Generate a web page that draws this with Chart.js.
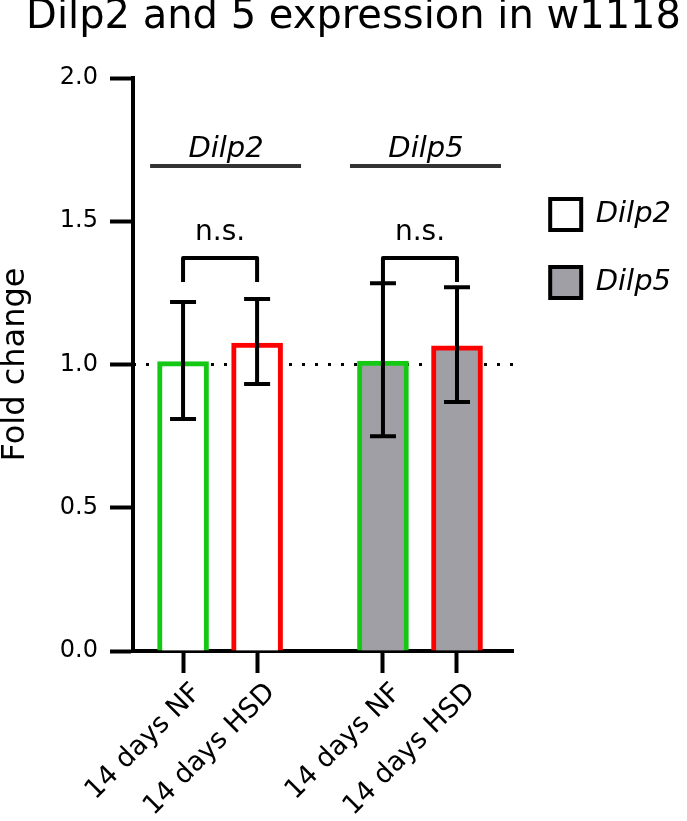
<!DOCTYPE html>
<html lang="en">
<head>
<meta charset="UTF-8">
<title>Dilp2 and 5 expression in w1118</title>
<script src="https://cdn.jsdelivr.net/npm/chart.js"></script>
<style>
  body { margin: 0; background: #fff; }
  .chart-box { width: 687px; height: 821px; }
</style>
</head>
<body>
<div class="chart-box"><canvas id="foldChart"></canvas></div>
<script>
const genes = ['Dilp2', 'Dilp5'];
const diets = ['14 days NF', '14 days HSD'];
const tickLabels = ['14 days NF', '14 days HSD', '14 days NF', '14 days HSD'];
const foldChange = [1.01, 1.075, 1.012, 1.065];
const errHigh = [1.218, 1.229, 1.284, 1.27];
const errLow = [0.81, 0.932, 0.75, 0.869];
const significance = ['n.s.', 'n.s.'];
const yTicks = [0, 0.5, 1.0, 1.5, 2.0];

// where the annotations sit, in fold-change units
const BRACKET_TOP = 1.372;
const BRACKET_LEG = 1.288;
const SIG_TEXT_Y = 1.434;
const HEADER_LINE_Y = 1.693;
const HEADER_TEXT_Y = 1.724;

const FONT = 'DejaVu Sans';
const GREEN = '#14c814';
const RED = '#ff0000';
const GREY = '#a09fa5';

// the two gene groups sit further apart than the diets inside a group
const GROUP_STEP = 2.7;
const xPos = tickLabels.map((_, i) => Math.floor(i / 2) * GROUP_STEP + (i % 2));
const X_MIN = -0.676, X_MAX = 4.459;

const annotations = {
  id: 'annotations',
  afterDatasetsDraw(chart) {
    const { ctx, scales: { x, y } } = chart;
    ctx.save();
    ctx.strokeStyle = '#000';
    ctx.lineWidth = 4;

    // error bars
    xPos.forEach((v, i) => {
      const px = x.getPixelForValue(v);
      const top = y.getPixelForValue(errHigh[i]);
      const bot = y.getPixelForValue(errLow[i]);
      ctx.beginPath();
      ctx.moveTo(px, top); ctx.lineTo(px, bot);
      ctx.moveTo(px - 13, top); ctx.lineTo(px + 13, top);
      ctx.moveTo(px - 13, bot); ctx.lineTo(px + 13, bot);
      ctx.stroke();
    });

    genes.forEach((g, k) => {
      const a = x.getPixelForValue(xPos[2 * k]);
      const b = x.getPixelForValue(xPos[2 * k + 1]);
      const mid = (a + b) / 2;

      // bracket + n.s.
      ctx.strokeStyle = '#000';
      ctx.lineWidth = 4;
      ctx.lineJoin = 'round';
      ctx.beginPath();
      ctx.moveTo(a, y.getPixelForValue(BRACKET_LEG));
      ctx.lineTo(a, y.getPixelForValue(BRACKET_TOP));
      ctx.lineTo(b, y.getPixelForValue(BRACKET_TOP));
      ctx.lineTo(b, y.getPixelForValue(BRACKET_LEG));
      ctx.stroke();
      ctx.fillStyle = '#000';
      ctx.textAlign = 'center';
      ctx.textBaseline = 'alphabetic';
      ctx.font = `28px "${FONT}"`;
      ctx.fillText(significance[k], mid, y.getPixelForValue(SIG_TEXT_Y));

      // gene header
      const hy = y.getPixelForValue(HEADER_LINE_Y);
      ctx.strokeStyle = '#333';
      ctx.beginPath();
      ctx.moveTo(mid - 70, hy);
      ctx.lineTo(mid + 81, hy);
      ctx.stroke();
      ctx.font = `italic 29px "${FONT}"`;
      ctx.fillText(g, mid + 6, y.getPixelForValue(HEADER_TEXT_Y));
    });
    ctx.restore();
  }
};

const axisGrid = {
  display: true,
  drawOnChartArea: false,
  drawTicks: true,
  tickWidth: 4,
  tickColor: '#000',
  offset: false
};

new Chart(document.getElementById('foldChart'), {
  type: 'bar',
  data: {
    datasets: [
      {
        type: 'bar',
        data: xPos.map((v, i) => ({ x: v, y: foldChange[i] })),
        backgroundColor: xPos.map((_, i) => Math.floor(i / 2) ? GREY : '#fff'),
        borderColor: xPos.map((_, i) => (i % 2) ? RED : GREEN),
        borderWidth: 5,
        borderSkipped: 'start',
        barThickness: 51,
        order: 1
      },
      {
        type: 'line',
        data: [{ x: X_MIN, y: 1 }, { x: X_MAX, y: 1 }],
        borderColor: '#000',
        borderWidth: 3,
        borderDash: [3, 10],
        pointRadius: 0,
        order: 2
      }
    ]
  },
  options: {
    responsive: true,
    maintainAspectRatio: false,
    animation: false,
    events: [],
    layout: { padding: { right: 6 } },
    scales: {
      x: {
        type: 'linear',
        min: X_MIN,
        max: X_MAX,
        offset: false,
        afterBuildTicks: s => { s.ticks = xPos.map(v => ({ value: v })); },
        afterFit: s => { s.height = 170; },
        grid: { ...axisGrid, tickLength: 22 },
        border: { display: true, color: '#000', width: 4 },
        ticks: {
          autoSkip: false,
          minRotation: 45,
          maxRotation: 45,
          padding: 4,
          labelOffset: 14,
          color: '#000',
          font: { family: FONT, size: 27 },
          callback: (v, i) => tickLabels[i]
        }
      },
      y: {
        min: 0,
        max: 2,
        afterBuildTicks: s => { s.ticks = yTicks.map(v => ({ value: v })); },
        afterFit: s => { s.width = 133; },
        grid: { ...axisGrid, tickLength: 23 },
        border: { display: true, color: '#000', width: 4 },
        ticks: {
          padding: 12,
          color: '#000',
          font: { family: FONT, size: 24 },
          callback: v => Number(v).toFixed(1)
        },
        title: {
          display: true,
          text: 'Fold change',
          color: '#000',
          padding: 0,
          font: { family: FONT, size: 32, lineHeight: 1 }
        }
      }
    },
    plugins: {
      tooltip: { enabled: false },
      title: {
        display: true,
        text: 'Dilp2 and 5 expression in w1118',
        align: 'end',
        color: '#000',
        padding: { top: 0, bottom: 42 },
        font: { family: FONT, size: 40, weight: 'normal', lineHeight: 0.9 }
      },
      legend: {
        position: 'right',
        align: 'start',
        title: { display: true, text: ' ', font: { size: 10, lineHeight: 1.2 }, padding: { top: 150, bottom: 0 } },
        labels: {
          boxWidth: 31,
          boxHeight: 31,
          padding: 37,
          color: '#000',
          font: { family: FONT, size: 29, style: 'italic' },
          generateLabels: () => genes.map((g, k) => ({
            text: g,
            fillStyle: k ? GREY : '#fff',
            strokeStyle: '#000',
            fontColor: '#000',
            lineWidth: 4,
            hidden: false,
            datasetIndex: 0
          }))
        }
      }
    }
  },
  plugins: [annotations]
});
</script>
</body>
</html>
